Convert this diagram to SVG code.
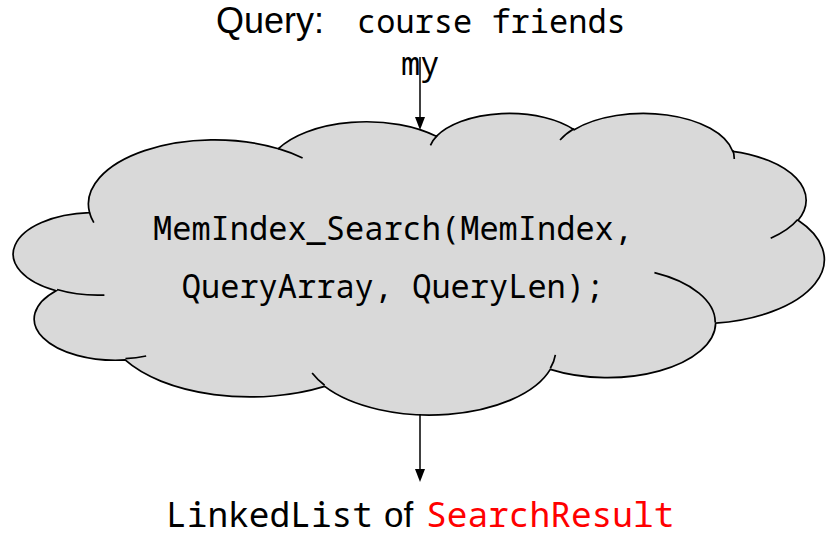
<svg xmlns="http://www.w3.org/2000/svg" width="829" height="537" viewBox="0 0 829 537">
  <style>
    .cloud { fill: #d9d9d9; stroke: #000; stroke-width: 1.7; vector-effect: non-scaling-stroke; }
    .cloud-rim { fill: none; stroke: #000; stroke-width: 1.7; vector-effect: non-scaling-stroke; }
    .mono { font-family: "Noto Sans Mono", "DejaVu Sans Mono", "Liberation Mono", monospace; fill: #000; }
    .sans { font-family: "Liberation Sans", Arial, sans-serif; fill: #000; }
    .red { fill: #ff0000; }
    .link { stroke: #000; stroke-width: 1.5; fill: none; marker-end: url(#head); }
  </style>
  <defs>
    <marker id="head" viewBox="0 0 13 10" markerWidth="13" markerHeight="10" refX="0" refY="5" orient="auto" markerUnits="userSpaceOnUse">
      <path d="M0,0 L13,5 L0,10 Z" fill="#000"/>
    </marker>
  </defs>

  <!-- Search call: cloud outline in a 43200-unit box, scaled to its place -->
  <g id="search-cloud">
    <g transform="translate(16.7,112.4) scale(0.018686,0.006979)">
      <path class="cloud" d="M3900,14370
        A6753,9190 0 0 1 14005,5202
        A5333,7267 0 0 1 22456,3432
        A4365,5945 0 0 1 29832,2479
        A4857,6595 0 0 1 38317,5574
        A5333,7273 0 0 1 41817,15458
        A6775,9220 0 0 1 37404,30204
        A5785,7867 0 0 1 28556,36814
        A6752,9215 0 0 1 16481,39266
        A7720,10543 0 0 1 5804,35471
        A4360,5918 0 0 1 2111,25551
        A4345,5945 0 0 1 3900,14370 Z"/>
      <path class="cloud-rim" d="M4693,26177 A4345,5945 0 0 1 2160,25380
        M6928,34899 A4360,5918 0 0 1 5820,35280
        M16478,39090 A6752,9215 0 0 1 15810,37349
        M28827,34751 A6752,9215 0 0 1 28560,36660
        M34129,22954 A5785,7867 0 0 1 37380,30090
        M41798,15354 A5333,7273 0 0 1 40350,18030
        M38324,5426 A4857,6595 0 0 1 38400,6690
        M29078,3952 A4857,6595 0 0 1 29820,2340
        M22141,4720 A4365,5945 0 0 1 22500,3330
        M14000,5192 A6753,9190 0 0 1 15300,6540
        M4127,15789 A6753,9190 0 0 1 3900,14371"/>
    </g>
    <text class="mono" font-size="32" x="393" y="240" text-anchor="middle">MemIndex_Search(MemIndex,</text>
    <text class="mono" font-size="32" x="393" y="298" text-anchor="middle">QueryArray, QueryLen);</text>
  </g>

  <!-- Input query -->
  <g id="query">
    <text class="sans" font-size="36" x="216" y="33">Query:</text>
    <text class="mono" font-size="32" x="357" y="33">course friends</text>
    <text class="mono" font-size="32" x="401" y="75">my</text>
  </g>

  <!-- Output -->
  <g id="result">
    <text class="mono" font-size="34.5" x="166" y="527">LinkedList</text>
    <text class="sans" font-size="35" x="384" y="527">of</text>
    <text class="mono red" font-size="34.5" x="426" y="527">SearchResult</text>
  </g>

  <g id="connectors">
    <path class="link" d="M420,57 L420,117"/>
    <path class="link" d="M420,414 L420,469"/>
  </g>
</svg>
